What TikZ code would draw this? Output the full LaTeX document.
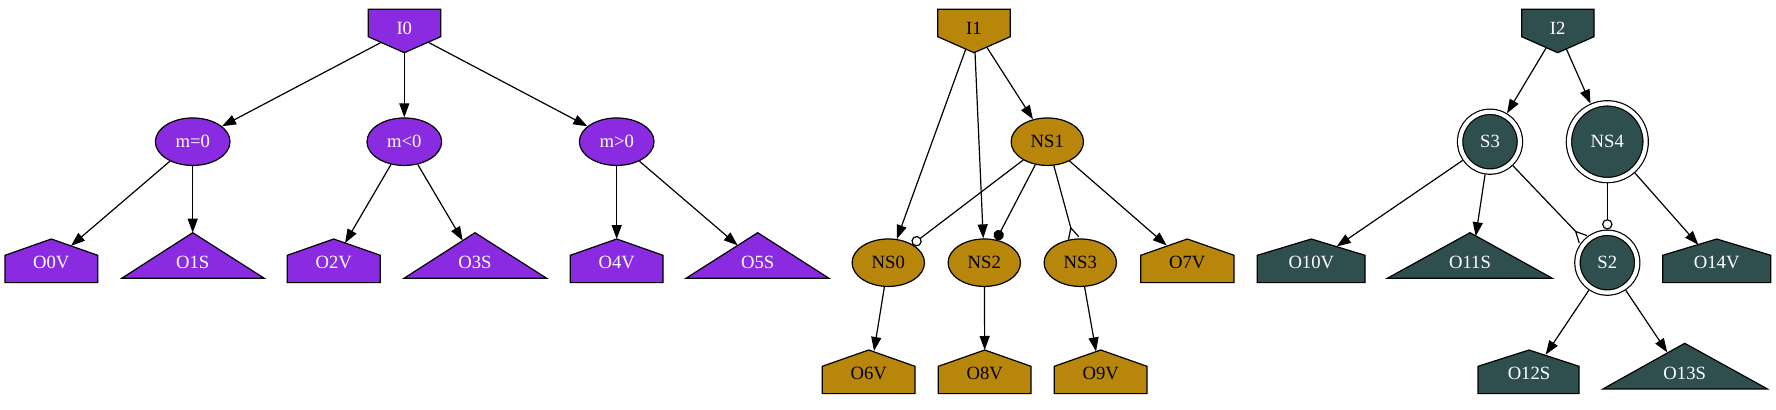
\documentclass[tikz,border=0pt]{standalone}
\usepackage{fontspec}
\setmainfont{Liberation Serif}
\usetikzlibrary{arrows.meta,shapes.geometric}
\definecolor{cpurple}{HTML}{8A2BE2}
\definecolor{cgold}{HTML}{B8860B}
\definecolor{cteal}{HTML}{2F4F4F}
\newcommand\myinvhouse[4]{\filldraw[fill=#4] (#2,9.3) -- (#3,9.3) -- (#3,36.7) -- (#1,52.7) -- (#2,36.7) -- cycle;}
\newcommand\myhouse[5]{\filldraw[fill=#5] (#2,{#4+43.6}) -- (#3,{#4+43.6}) -- (#3,{#4+16.3}) -- (#1,#4) -- (#2,{#4+16.3}) -- cycle;}
\newcommand\mytri[5]{\filldraw[fill=#5] (#2,{#4+45.6}) -- (#3,{#4+45.6}) -- (#1,#4) -- cycle;}
\begin{document}
\begin{tikzpicture}[x=0.75pt,y=-0.75pt,line width=0.9pt,
  every node/.style={font=\fontsize{14pt}{16pt}\selectfont},
  lbl/.style={inner sep=0pt},
  ellnode/.style={ellipse,draw,inner sep=0pt,minimum height=35.6pt},
  dcirc/.style={circle,draw,double=white,double distance=3.1pt,inner sep=0pt,outer sep=2.45pt,fill=cteal,text=white},
  arr/.style={-{Triangle[length=10.5pt,width=7.5pt]}},
  odotarr/.style={-{Circle[open,length=7.8pt]}},
  dotarr/.style={-{Circle[length=7.8pt]}},
  invarr/.style={-{Straight Barb[reversed,length=8pt,width=8pt]}}]
\fill[white] (0,0) rectangle (1776,410);
\useasboundingbox (0,0) rectangle (1776,410);
% shapes
\myinvhouse{404.3}{368.3}{440.7}{cpurple}
\myinvhouse{974}{937.7}{1010.3}{cgold}
\myinvhouse{1557.7}{1521.7}{1594}{cteal}
\myhouse{51.3}{5}{97.7}{239}{cpurple}
\mytri{192.7}{121.7}{264.3}{232.7}{cpurple}
\myhouse{333.7}{287.3}{380.3}{239}{cpurple}
\mytri{475}{404}{546.7}{232.7}{cpurple}
\myhouse{616.7}{570.3}{663}{239}{cpurple}
\mytri{757.7}{686}{829}{232.7}{cpurple}
\myhouse{1187.3}{1140.7}{1234}{239}{cgold}
\myhouse{868.7}{822.3}{915}{350}{cgold}
\myhouse{984.7}{938.3}{1031}{350}{cgold}
\myhouse{1100.7}{1054.3}{1147}{350}{cgold}
\myhouse{1311.3}{1257.3}{1365}{239}{cteal}
\mytri{1470}{1387.3}{1552.3}{232.7}{cteal}
\myhouse{1716.7}{1662.7}{1770.7}{239}{cteal}
\myhouse{1529}{1478}{1579}{350}{cteal}
\mytri{1684.7}{1603}{1767.3}{343.3}{cteal}
% purple nodes
\node[lbl,text=white] (I0) at (404.3,28) {I0};
\node[ellnode,fill=cpurple,text=white,minimum width=56pt] (m0) at (192.7,141.7) {m=0};
\node[ellnode,fill=cpurple,text=white,minimum width=56pt] (mlt) at (404.3,141.7) {m<0};
\node[ellnode,fill=cpurple,text=white,minimum width=56pt] (mgt) at (616.7,141.7) {m>0};
\node[lbl,text=white] (O0V) at (51.3,262.5) {O0V};
\node[lbl,text=white] (O1S) at (192.7,262.5) {O1S};
\node[lbl,text=white] (O2V) at (333.7,262.5) {O2V};
\node[lbl,text=white] (O3S) at (475,262.5) {O3S};
\node[lbl,text=white] (O4V) at (616.7,262.5) {O4V};
\node[lbl,text=white] (O5S) at (757.7,262.5) {O5S};
% gold nodes
\node[lbl,text=black] (I1) at (974,28) {I1};
\node[ellnode,fill=cgold,minimum width=54.3pt] (NS1) at (1047.3,141.7) {NS1};
\node[ellnode,fill=cgold,minimum width=54.3pt] (NS0) at (888.3,262.7) {NS0};
\node[ellnode,fill=cgold,minimum width=54.3pt] (NS2) at (984.3,262.7) {NS2};
\node[ellnode,fill=cgold,minimum width=54.3pt] (NS3) at (1080.3,262.7) {NS3};
\node[lbl,text=black] (O7V) at (1187.3,262.5) {O7V};
\node[lbl,text=black] (O6V) at (868.7,373) {O6V};
\node[lbl,text=black] (O8V) at (984.7,373) {O8V};
\node[lbl,text=black] (O9V) at (1100.7,373) {O9V};
% teal nodes
\node[lbl,text=white] (I2) at (1557.7,28) {I2};
\node[dcirc,minimum size=44.8pt] (S3) at (1490,141.7) {S3};
\node[dcirc,minimum size=57.5pt] (NS4) at (1607.3,141.7) {NS4};
\node[dcirc,minimum size=44.8pt] (S2) at (1607.3,262.7) {S2};
\node[lbl,text=white] (O10V) at (1311.3,262.5) {O10V};
\node[lbl,text=white] (O11S) at (1470,262.5) {O11S};
\node[lbl,text=white] (O14V) at (1716.7,262.5) {O14V};
\node[lbl,text=white] (O12S) at (1529,373) {O12S};
\node[lbl,text=white] (O13S) at (1684.7,373) {O13S};
% purple edges
\draw[arr] ([shift={(-23.3,14.5)}]I0.center) -- (m0);
\draw[arr] ([shift={(0,24.7)}]I0.center) -- (mlt);
\draw[arr] ([shift={(24,14.3)}]I0.center) -- (mgt);
\draw[arr] (m0) -- ([shift={(19.7,-16.6)}]O0V.center);
\draw[arr] (m0) -- ([shift={(0,-29.8)}]O1S.center);
\draw[arr] (mlt) -- ([shift={(11.3,-19.4)}]O2V.center);
\draw[arr] (mlt) -- ([shift={(-12.3,-21.9)}]O3S.center);
\draw[arr] (mgt) -- ([shift={(0,-23.5)}]O4V.center);
\draw[arr] (mgt) -- ([shift={(-20,-17.1)}]O5S.center);
% gold edges
\draw[arr] ([shift={(-8.3,21.3)}]I1.center) -- (NS0);
\draw[arr] ([shift={(1,24.2)}]I1.center) -- (NS2);
\draw[arr] ([shift={(12.7,19.1)}]I1.center) -- (NS1);
\draw[odotarr] (NS1) -- (NS0);
\draw[dotarr] (NS1) -- (NS2);
\draw[invarr] (NS1) -- (NS3);
\draw[arr] (NS1) -- ([shift={(-20.6,-17)}]O7V.center);
\draw[arr] (NS0) -- ([shift={(5.3,-22)}]O6V.center);
\draw[arr] (NS2) -- ([shift={(0,-23)}]O8V.center);
\draw[arr] (NS3) -- ([shift={(-4.7,-21.6)}]O9V.center);
% teal edges
\draw[arr] ([shift={(-11.4,19.6)}]I2.center) -- (S3);
\draw[arr] ([shift={(8.6,20.9)}]I2.center) -- (NS4);
\draw[arr] (S3) -- ([shift={(25.4,-16)}]O10V.center);
\draw[arr] (S3) -- ([shift={(5.7,-26.3)}]O11S.center);
\draw[invarr] (S3) -- (S2.136);
\draw[odotarr] (NS4) -- (S2);
\draw[arr] (NS4) -- ([shift={(-18.4,-17.7)}]O14V.center);
\draw[arr] (S2) -- ([shift={(16.7,-18.4)}]O12S.center);
\draw[arr] (S2) -- ([shift={(-17.4,-20.6)}]O13S.center);
\end{tikzpicture}
\end{document}
